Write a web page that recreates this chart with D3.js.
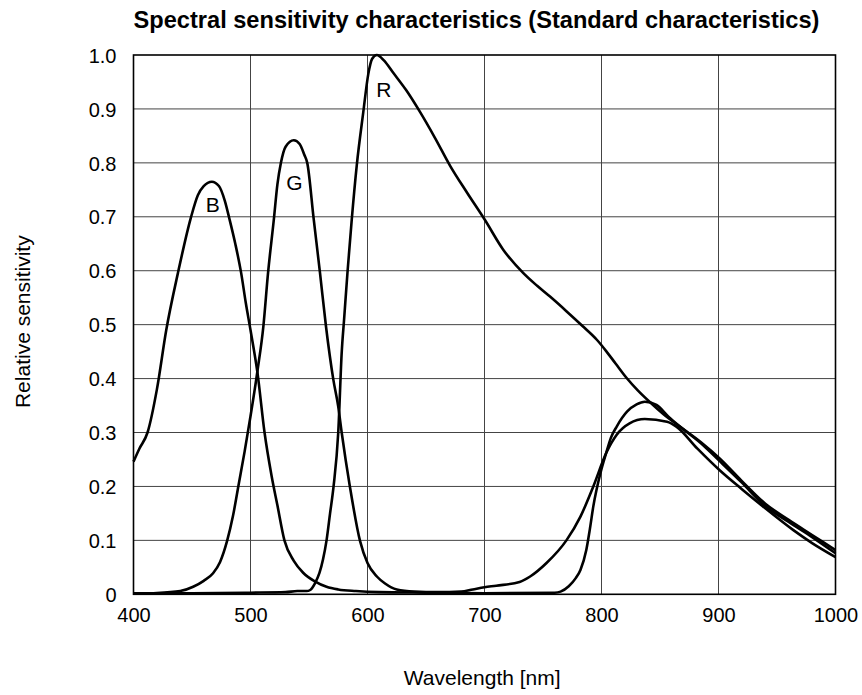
<!DOCTYPE html>
<html>
<head>
<meta charset="utf-8">
<script src="https://cdn.jsdelivr.net/npm/d3@7"></script>
<style>
  html, body { margin: 0; padding: 0; background: #fff; }
  svg { display: block; font-family: "Liberation Sans", Arial, sans-serif; }
</style>
</head>
<body>
<div id="chart"></div>
<script>
// values
var xTicks = [400, 500, 600, 700, 800, 900, 1000];
var yTicks = [0, 0.1, 0.2, 0.3, 0.4, 0.5, 0.6, 0.7, 0.8, 0.9, 1.0];
var yTickLabels = ["0", "0.1", "0.2", "0.3", "0.4", "0.5", "0.6", "0.7", "0.8", "0.9", "1.0"];

var bWave = [400, 405, 412, 420, 428, 438, 449, 455, 460, 467, 473, 478, 482, 487, 492, 496, 500, 506, 512, 518, 523, 529, 537, 545, 555, 565, 575, 590, 610, 650, 700, 760,
  765, 772, 778, 782, 787, 790, 793, 799, 804, 808, 813, 822, 830, 837, 847, 857, 867, 885, 901, 920, 938, 960, 980, 1000];
var bValue = [0.246, 0.27, 0.30, 0.38, 0.49, 0.596, 0.698, 0.74, 0.757, 0.765, 0.757, 0.73, 0.696, 0.65, 0.596, 0.54, 0.49, 0.41, 0.30, 0.22, 0.165, 0.10, 0.062, 0.04, 0.024, 0.014, 0.009, 0.006, 0.004, 0.003, 0.002, 0.003,
  0.005, 0.015, 0.03, 0.045, 0.082, 0.12, 0.163, 0.224, 0.262, 0.29, 0.311, 0.339, 0.352, 0.357, 0.351, 0.33, 0.311, 0.28, 0.247, 0.207, 0.167, 0.134, 0.106, 0.076];

var gWave = [400, 417, 440, 451, 460, 468, 474, 480, 485, 490, 495, 500, 506, 511, 515, 520, 523, 526, 530, 537, 542, 546, 548.5, 554, 559.4, 564.5, 570.8, 575, 578, 585, 593.6, 600, 608, 615, 625, 640, 660,
  680, 690, 700, 710, 730, 739, 753, 770, 782, 793, 804, 813, 824, 837, 856, 864, 882, 901, 920, 938, 964, 980, 1000];
var gValue = [0.001, 0.002, 0.006, 0.014, 0.025, 0.039, 0.06, 0.099, 0.145, 0.205, 0.265, 0.33, 0.415, 0.497, 0.596, 0.696, 0.76, 0.8, 0.83, 0.842, 0.835, 0.815, 0.8, 0.696, 0.596, 0.497, 0.398, 0.348, 0.299, 0.199, 0.099, 0.058, 0.033, 0.02, 0.009, 0.005, 0.004,
  0.005, 0.009, 0.013, 0.016, 0.023, 0.033, 0.058, 0.10, 0.144, 0.20, 0.262, 0.296, 0.317, 0.325, 0.32, 0.311, 0.27, 0.23, 0.195, 0.163, 0.119, 0.095, 0.069];

var rWave = [400, 450, 500, 530, 540, 548, 551, 555, 559, 562, 565, 568, 571, 575, 578, 580, 583, 586.5, 590.8, 596.4, 600.7, 604, 608, 614, 622, 633, 645, 658, 670.5, 685, 700.4, 716, 733, 745, 756, 770, 784, 796, 804,
  812, 821.5, 831, 841.5, 853, 867, 885, 901, 920, 940, 960, 980, 1000];
var rValue = [0.002, 0.002, 0.003, 0.004, 0.006, 0.006, 0.008, 0.02, 0.04, 0.065, 0.10, 0.15, 0.20, 0.30, 0.45, 0.51, 0.60, 0.694, 0.795, 0.894, 0.965, 0.993, 1.0, 0.99, 0.967, 0.935, 0.894, 0.845, 0.795, 0.745, 0.694, 0.639, 0.596, 0.572, 0.552, 0.525, 0.497, 0.472, 0.451,
  0.428, 0.401, 0.378, 0.356, 0.334, 0.311, 0.282, 0.252, 0.21, 0.168, 0.138, 0.11, 0.082];

var seriesNames = ["B", "G", "R"];
var labelWave = [467.7, 537.6, 613.9];
var labelValue = [0.708, 0.749, 0.922];

var width = 862, height = 695;
var plotLeft = 133.5, plotRight = 835.5, plotTop = 55, plotBottom = 594.3;

var svg = d3.select("#chart").append("svg")
  .attr("width", width)
  .attr("height", height);

var x = d3.scaleLinear().domain([400, 1000]).range([plotLeft, plotRight]);
var y = d3.scaleLinear().domain([0, 1]).range([plotBottom, plotTop]);

// grid
svg.append("g")
  .selectAll("line")
  .data(xTicks.slice(1, -1))
  .enter().append("line")
    .attr("x1", function(d) { return x(d); })
    .attr("x2", function(d) { return x(d); })
    .attr("y1", plotTop)
    .attr("y2", plotBottom)
    .attr("stroke", "#444")
    .attr("stroke-width", 1);

svg.append("g")
  .selectAll("line")
  .data(yTicks.slice(1, -1))
  .enter().append("line")
    .attr("x1", plotLeft)
    .attr("x2", plotRight)
    .attr("y1", function(d) { return y(d); })
    .attr("y2", function(d) { return y(d); })
    .attr("stroke", "#444")
    .attr("stroke-width", 1);

// axes (labels only)
var xAxis = d3.axisBottom(x).tickValues(xTicks).tickSize(0).tickFormat(d3.format("d"));
var yAxis = d3.axisLeft(y).tickValues(yTicks).tickSize(0)
  .tickFormat(function(d, i) { return yTickLabels[i]; });

var gx = svg.append("g")
  .attr("transform", "translate(0," + plotBottom + ")")
  .call(xAxis);
gx.select(".domain").remove();
gx.selectAll("text")
  .attr("y", 28)
  .attr("dy", null)
  .style("font-size", "20px")
  .style("font-family", "Liberation Sans, Arial, sans-serif")
  .attr("fill", "#000");

var gy = svg.append("g")
  .attr("transform", "translate(" + plotLeft + ",0)")
  .call(yAxis);
gy.select(".domain").remove();
gy.selectAll("text")
  .attr("x", -17)
  .attr("dy", "0.36em")
  .style("font-size", "20px")
  .style("font-family", "Liberation Sans, Arial, sans-serif")
  .attr("fill", "#000");

// curves
var line = d3.line()
  .x(function(d) { return x(d[0]); })
  .y(function(d) { return y(d[1]); })
  .curve(d3.curveMonotoneX);

var curves = [d3.zip(bWave, bValue), d3.zip(gWave, gValue), d3.zip(rWave, rValue)];

svg.append("g")
  .selectAll("path")
  .data(curves)
  .enter().append("path")
    .attr("d", line)
    .attr("fill", "none")
    .attr("stroke", "#000")
    .attr("stroke-width", 2.6)
    .attr("stroke-linejoin", "round");

// frame
svg.append("rect")
  .attr("x", plotLeft)
  .attr("y", plotTop)
  .attr("width", plotRight - plotLeft)
  .attr("height", plotBottom - plotTop)
  .attr("fill", "none")
  .attr("stroke", "#000")
  .attr("stroke-width", 1.6);

// curve names
svg.append("g")
  .selectAll("text")
  .data(seriesNames)
  .enter().append("text")
    .attr("x", function(d, i) { return x(labelWave[i]); })
    .attr("y", function(d, i) { return y(labelValue[i]); })
    .attr("text-anchor", "middle")
    .style("font-size", "21px")
    .text(function(d) { return d; });

// titles
svg.append("text")
  .attr("x", 476.5)
  .attr("y", 28.3)
  .attr("text-anchor", "middle")
  .style("font-size", "23.6px")
  .style("font-weight", "bold")
  .text("Spectral sensitivity characteristics (Standard characteristics)");

svg.append("text")
  .attr("x", 482.2)
  .attr("y", 685)
  .attr("text-anchor", "middle")
  .style("font-size", "21px")
  .text("Wavelength [nm]");

svg.append("text")
  .attr("transform", "translate(30,321.7) rotate(-90)")
  .attr("text-anchor", "middle")
  .style("font-size", "21px")
  .text("Relative sensitivity");
</script>
</body>
</html>
